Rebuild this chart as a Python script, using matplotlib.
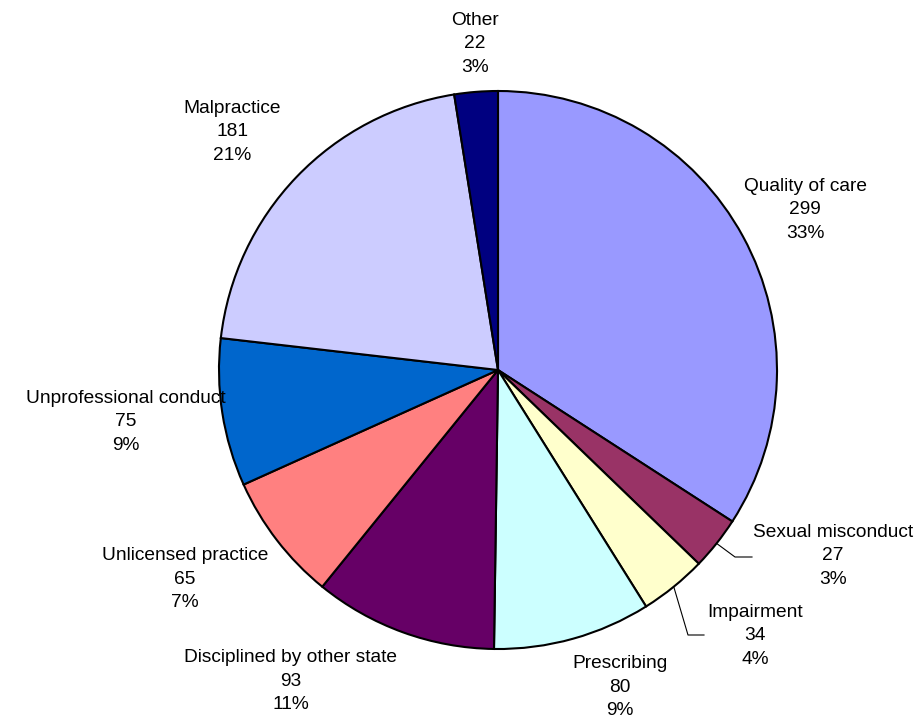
import numpy as np
import matplotlib.pyplot as plt

plt.rcParams['font.family'] = ['Liberation Sans', 'DejaVu Sans']

categories = ['Quality of care', 'Sexual misconduct', 'Impairment', 'Prescribing',
              'Disciplined by other state', 'Unlicensed practice',
              'Unprofessional conduct', 'Malpractice', 'Other']
counts = [299, 27, 34, 80, 93, 65, 75, 181, 22]
percents = ['33%', '3%', '4%', '9%', '11%', '7%', '9%', '21%', '3%']
colors = ['#9999FF', '#993366', '#FFFFCC', '#CCFFFF', '#660066',
          '#FF8080', '#0066CC', '#CCCCFF', '#000080']

# label block centres in pixel coords (y measured from top)
label_pos = [(805, 210), (833, 556), (755, 636), (620, 687), (291, 681),
             (185, 579), (126, 422), (232, 132), (475, 44)]
# leader lines for the two small wedges: elbow point and end point
leaders = {1: [(735, 557), (752, 557)], 2: [(688, 635), (704, 635)]}

W, H = 916, 717
cx, cy, r = 498, 370, 279

fig = plt.figure(figsize=(W / 100, H / 100), dpi=100)
ax = fig.add_axes([0, 0, 1, 1])

ax.pie(counts, colors=colors, startangle=90, counterclock=False,
       center=(cx, H - cy), radius=r,
       wedgeprops=dict(edgecolor='black', linewidth=1.5))

# pie() resets the limits, so set the pixel frame afterwards
ax.set_xlim(0, W)
ax.set_ylim(0, H)
ax.set_aspect('equal')
ax.axis('off')

total = sum(counts)
cum = np.cumsum([0] + counts)
for i, name in enumerate(categories):
    x, y = label_pos[i]
    ax.text(x, H - y, f'{name}\n{counts[i]}\n{percents[i]}', ha='center', va='center',
            fontsize=13.8, linespacing=1.47)
    if i in leaders:
        mid = (cum[i] + counts[i] / 2) / total * 2 * np.pi
        ex = cx + r * np.sin(mid)
        ey = cy - r * np.cos(mid)
        pts = [(ex, ey)] + leaders[i]
        ax.plot([p[0] for p in pts], [H - p[1] for p in pts], color='black', linewidth=0.8)

fig.savefig('out.png', dpi=100)
